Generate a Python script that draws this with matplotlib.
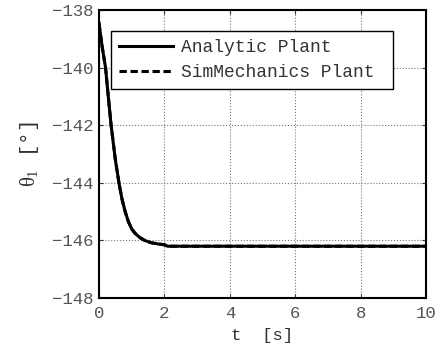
import numpy as np
import matplotlib
matplotlib.use('Agg')
import matplotlib.pyplot as plt

plt.rcParams['font.family'] = ['Liberation Mono', 'DejaVu Sans']
plt.rcParams['mathtext.fontset'] = 'custom'
plt.rcParams['mathtext.it'] = 'Liberation Serif'
plt.rcParams['mathtext.rm'] = 'Liberation Serif'

# joint angle response (deg) vs time (s)
t = [0.0, 0.05, 0.1, 0.2, 0.3, 0.37, 0.5, 0.61, 0.7, 0.8, 0.9, 1.0, 1.1,
     1.25, 1.4, 1.6, 1.8, 2.0, 2.1, 3.0, 5.0, 10.0]
theta_analytic = [-138.45, -138.9, -139.3, -140.0, -141.2, -142.0, -143.2, -144.0,
                  -144.55, -145.0, -145.35, -145.6, -145.75, -145.9, -146.0, -146.08,
                  -146.12, -146.15, -146.2, -146.2, -146.2, -146.2]
theta_simmech = list(theta_analytic)

fig = plt.figure(figsize=(4.42, 3.45), dpi=100)
ax = fig.add_axes([0.224, 0.136, 0.740, 0.835])

ax.plot(t, theta_analytic, color='black', lw=2.2, label='Analytic Plant')
ax.plot(t, theta_simmech, color='black', lw=2.2, ls='--', dashes=(2.4, 1.2),
        label='SimMechanics Plant ')

ax.set_xlim(0, 10)
ax.set_ylim(-148, -138)
ax.set_xticks([0, 2, 4, 6, 8, 10])
ax.set_yticks([-148, -146, -144, -142, -140, -138])
ax.set_yticklabels(['\u2212148', '\u2212146', '\u2212144', '\u2212142', '\u2212140', '\u2212138'])
ax.tick_params(direction='in', length=3, width=0.8, top=True, right=True,
               labelsize=12.5, colors='#333333', labelcolor='#555555')
ax.tick_params(axis='x', pad=6)
ax.tick_params(axis='y', pad=4)
ax.grid(True, color='#777777', ls=':', lw=0.8)
for s in ax.spines.values():
    s.set_linewidth(1.5)

ax.set_xlabel('t  [s]', fontsize=12.5, color='#333333', labelpad=5)
ax.set_ylabel(r'$\theta_1$ [°]', fontsize=15, color='#333333', labelpad=8)

leg = ax.legend(loc='upper left', bbox_to_anchor=(0.037, 0.927), borderaxespad=0,
                fontsize=13, frameon=True, fancybox=False, edgecolor='black',
                framealpha=1, handlelength=3.0, handletextpad=0.4,
                borderpad=0.45, labelspacing=0.45)
leg.get_frame().set_linewidth(1.0)
for txt in leg.get_texts():
    txt.set_color('#333333')

fig.savefig('out.png', dpi=100)
